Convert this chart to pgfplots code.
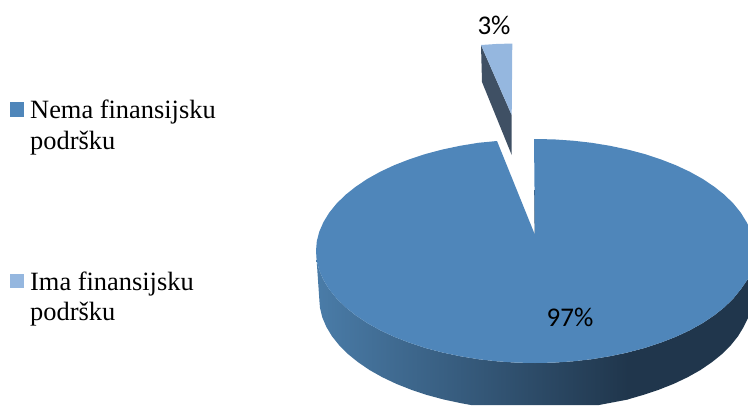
\documentclass[border=0pt]{standalone}
\usepackage{pgfplots}
\pgfplotsset{compat=1.18}
\usepackage{fontspec}
\setmainfont{Liberation Serif}
\newfontfamily\labelfont{Carlito}
\definecolor{mainblue}{HTML}{4F86BA}
\definecolor{lightblue}{HTML}{95B7DF}
\definecolor{wallleft}{HTML}{4A7CA8}
\definecolor{walldark}{HTML}{20364C}
\definecolor{slicewall}{HTML}{3F5064}
\begin{document}
\begin{tikzpicture}
\path[use as bounding box] (0,0) rectangle (748pt,405pt);
\begin{axis}[
  at={(0,0)}, anchor=south west,
  scale only axis, width=748pt, height=405pt,
  xmin=0, xmax=748, ymin=0, ymax=405, y dir=reverse,
  hide axis, no markers,
  legend style={at={(axis cs:10,98)}, anchor=north west, draw=none, fill=none,
    font=\fontsize{26.4}{30.5}\selectfont, row sep=117pt, inner sep=0pt,
    nodes={inner xsep=0pt}, column sep=6pt,
    cells={anchor=west, align=left}},
  legend image code/.code={\fill[#1] (0pt,9pt) rectangle (14pt,23pt);},
  legend cell align=left,
]
% side wall, shaded part
\addplot[forget plot, draw=none, left color=wallleft, right color=walldark] coordinates {
  (316,251) (316.8,260.8) (319.3,270.4) (323.5,280) (329.2,289.3) (336.5,298.3)
  (345.3,307) (355.6,315.2) (367.2,323) (380.1,330.2) (394.2,336.8) (409.4,342.7)
  (425.5,348) (442.5,352.5) (460.1,356.2) (478.3,359.2) (497,361.3) (515.9,362.6)
  (535,363) (554.1,362.6) (573,361.3) (591.7,359.2) (609.9,356.2) (628,352.5)
  (628,399.5) (599,405) (471,405) (461.1,403.2) (443.7,399.5) (427,395)
  (411.1,389.7) (396.2,383.8) (382.3,377.2) (369.5,370) (358.1,362.2) (347.9,354)
  (339.2,345.3) (332,336.3) (326.4,327) (322.3,317.4) (320,307.8) (319.5,302)
} --cycle;
% side wall, dark part
\addplot[forget plot, draw=none, fill=walldark] coordinates {
  (627.5,352.5) (644.5,348) (660.6,342.7) (675.8,336.8) (689.9,330.2) (702.8,323)
  (714.4,315.2) (724.7,307) (733.5,298.3) (740.8,289.3) (746.5,281) (748,279)
  (748,318) (743.6,327) (738,336.3) (730.8,345.3) (722.1,354) (711.9,362.2)
  (700.5,370) (687.7,377.2) (673.8,383.8) (658.9,389.7) (643,395) (627.5,399.5)
} --cycle;
% exploded slice wall
\addplot[forget plot, draw=none, fill=slicewall] coordinates {
  (481,45) (511.7,115) (511.7,155) (482,82)
} --cycle;
% cut face of the big slice
\addplot[forget plot, draw=wallleft!70!black, line width=0.8pt] coordinates {(534.6,190) (535,235)};
% 97% top
\addplot[draw=none, fill=mainblue] coordinates {
  (316,251) (316.8,241.2) (319.3,231.6) (323.5,222) (329.2,212.7) (336.5,203.7)
  (345.3,195) (355.6,186.8) (367.2,179) (380.1,171.8) (394.2,165.2) (409.4,159.3)
  (425.5,154) (442.5,149.5) (460.1,145.8) (478.3,142.8) (497,141)
  (535,235) (534,139)
  (535,139) (554.1,139.4) (573,140.7) (591.7,142.8) (609.9,145.8) (627.5,149.5)
  (644.5,154) (660.6,159.3) (675.8,165.2) (689.9,171.8) (702.8,179) (714.4,186.8)
  (724.7,195) (733.5,203.7) (740.8,212.7) (746.5,222) (748,225)
  (748,279) (746.5,281) (740.8,289.3) (733.5,298.3) (724.7,307) (714.4,315.2)
  (702.8,323) (689.9,330.2) (675.8,336.8) (660.6,342.7) (644.5,348) (627.5,352.5)
  (609.9,356.2) (591.7,359.2) (573,361.3) (554.1,362.6) (535,363) (515.9,362.6)
  (497,361.3) (478.3,359.2) (460.1,356.2) (442.5,352.5) (425.5,348) (409.4,342.7)
  (394.2,336.8) (380.1,330.2) (367.2,323) (355.6,315.2) (345.3,307) (336.5,298.3)
  (329.2,289.3) (323.5,280) (319.3,270.4) (316.8,260.8)
} --cycle;
\addlegendentry{Nema finansijsku\\podršku}
% 3% top
\addplot[draw=none, fill=lightblue] coordinates {
  (481,45) (496,44) (512.3,43.5) (511.7,115)
} --cycle;
\addlegendentry{Ima finansijsku\\podršku}
\node[font=\labelfont\fontsize{27}{30}\selectfont] at (axis cs:494,25) {3\%};
\node[font=\labelfont\fontsize{27}{30}\selectfont] at (axis cs:570,317) {97\%};
\end{axis}
\end{tikzpicture}
\end{document}
